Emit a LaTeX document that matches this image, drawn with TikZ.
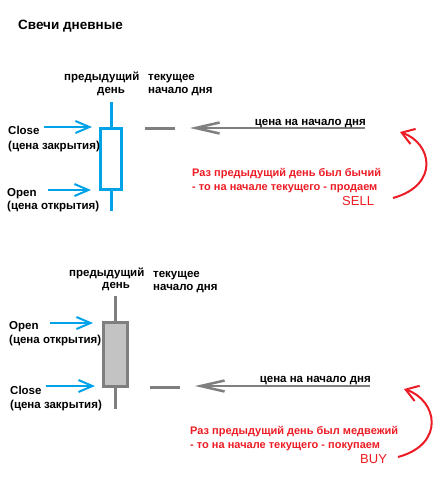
\documentclass[tikz,border=0pt]{standalone}
\usepackage{fontspec}
\setmainfont{Liberation Sans}
\usetikzlibrary{arrows.meta}
\definecolor{cblue}{RGB}{0,162,232}
\definecolor{cred}{RGB}{237,28,36}
\definecolor{cgray}{RGB}{127,127,127}
\definecolor{cfill}{RGB}{195,195,195}
\begin{document}
\begin{tikzpicture}[x=1pt,y=-1pt,
  lbl/.style={inner sep=0pt, anchor=base west, font=\fontsize{11.5}{13}\selectfont\bfseries},
  redtxt/.style={inner sep=0pt, anchor=base west, text=cred, font=\fontsize{11}{13}\selectfont\bfseries},
  bigred/.style={inner sep=0pt, anchor=base west, text=cred, font=\fontsize{13}{15}\selectfont},
  bluearrow/.style={draw=cblue, line width=1.5pt, -{Straight Barb[length=14pt,width=12pt,line width=2pt]}},
  grayarrow/.style={draw=cgray, line width=1.5pt, -{Straight Barb[length=24pt,width=11pt,line width=2.5pt]}},
  redarrow/.style={draw=cred, line width=2pt, -{Straight Barb[length=12pt,width=16pt,line width=2pt]}},
  wick/.style={line width=3pt},
  pricebar/.style={draw=cgray, line width=3pt}]
\useasboundingbox[fill=white] (0,0) rectangle (440,491);

% title
\node[inner sep=0pt, anchor=base west, font=\fontsize{13.5}{16}\selectfont\bfseries] (title) at (18,29.5) {Свечи дневные};

% ===== top: bullish candle =====
\node[lbl] (prev1a) at (64,80) {предыдущий};
\node[lbl] (prev1b) at (97,93) {день};
\node[lbl] (cur1a) at (148,80) {текущее};
\node[lbl] (cur1b) at (148,93) {начало дня};

\node[draw=cblue, line width=3pt, minimum width=21pt, minimum height=61pt, inner sep=0pt] (body1) at (111,159) {};
\coordinate (w1t) at (111,102);
\coordinate (w1b) at (111,211);
\draw[cblue, wick] (w1t) -- (body1.north);
\draw[cblue, wick] (body1.south) -- (w1b);

\node[lbl] (close1) at (8,134) {Close};
\node[lbl] (close1b) at (8,149) {(цена закрытия)};
\node[lbl] (open1) at (7,196) {Open};
\node[lbl] (open1b) at (7,209) {(цена открытия)};
\coordinate (ac1s) at (44,127);
\coordinate (ac1e) at (92,127);
\coordinate (ao1s) at (48,190);
\coordinate (ao1e) at (91,190);
\draw[bluearrow] (ac1s) -- (ac1e);
\draw[bluearrow] (ao1s) -- (ao1e);

\coordinate (p1s) at (145,128);
\coordinate (p1e) at (175,128);
\draw[pricebar] (p1s) -- (p1e);

\coordinate (g1s) at (365,128);
\coordinate (g1e) at (190,128);
\draw[grayarrow] (g1s) -- (g1e);
\node[lbl, anchor=base east] (price1) at (366,125) {цена на начало дня};

\node[redtxt] (r1a) at (192,176) {Раз предыдущий день был бычий};
\node[redtxt] (r1b) at (192,190) {- то на начале текущего - продаем};
\node[bigred] (sell) at (342,205) {SELL};
\coordinate (rc1s) at (393,198);
\coordinate (rc1e) at (400,132);
\draw[redarrow] (rc1s) .. controls (440,185) and (432,143) .. (rc1e);

% ===== bottom: bearish candle =====
\node[lbl] (prev2a) at (69,276) {предыдущий};
\node[lbl] (prev2b) at (102,288) {день};
\node[lbl] (cur2a) at (153,277) {текущее};
\node[lbl] (cur2b) at (153,290) {начало дня};

\coordinate (w2t) at (115,296);
\coordinate (w2b) at (115,409);
\draw[cgray, wick] (w2t) -- (w2b);
\node[draw=cgray, fill=cfill, line width=3pt, minimum width=24pt, minimum height=64pt, inner sep=0pt] (body2) at (115.5,354.5) {};

\node[lbl] (open2) at (9,329) {Open};
\node[lbl] (open2b) at (9,343) {(цена открытия)};
\node[lbl] (close2) at (10,394) {Close};
\node[lbl] (close2b) at (10,408) {(цена закрытия)};
\coordinate (ao2s) at (50,323);
\coordinate (ao2e) at (93,323);
\coordinate (ac2s) at (46,386);
\coordinate (ac2e) at (95,386);
\draw[bluearrow] (ao2s) -- (ao2e);
\draw[bluearrow] (ac2s) -- (ac2e);

\coordinate (p2s) at (150,387);
\coordinate (p2e) at (180,387);
\draw[pricebar] (p2s) -- (p2e);

\coordinate (g2s) at (370,386);
\coordinate (g2e) at (195,386);
\draw[grayarrow] (g2s) -- (g2e);
\node[lbl, anchor=base east] (price2) at (371,382) {цена на начало дня};

\node[redtxt] (r2a) at (190,434) {Раз предыдущий день был медвежий};
\node[redtxt] (r2b) at (190,448) {- то на начале текущего - покупаем};
\node[bigred] (buy) at (360,463) {BUY};
\coordinate (rc2s) at (398,457);
\coordinate (rc2e) at (404,389);
\draw[redarrow] (rc2s) .. controls (446,444) and (437,400) .. (rc2e);
\end{tikzpicture}
\end{document}
